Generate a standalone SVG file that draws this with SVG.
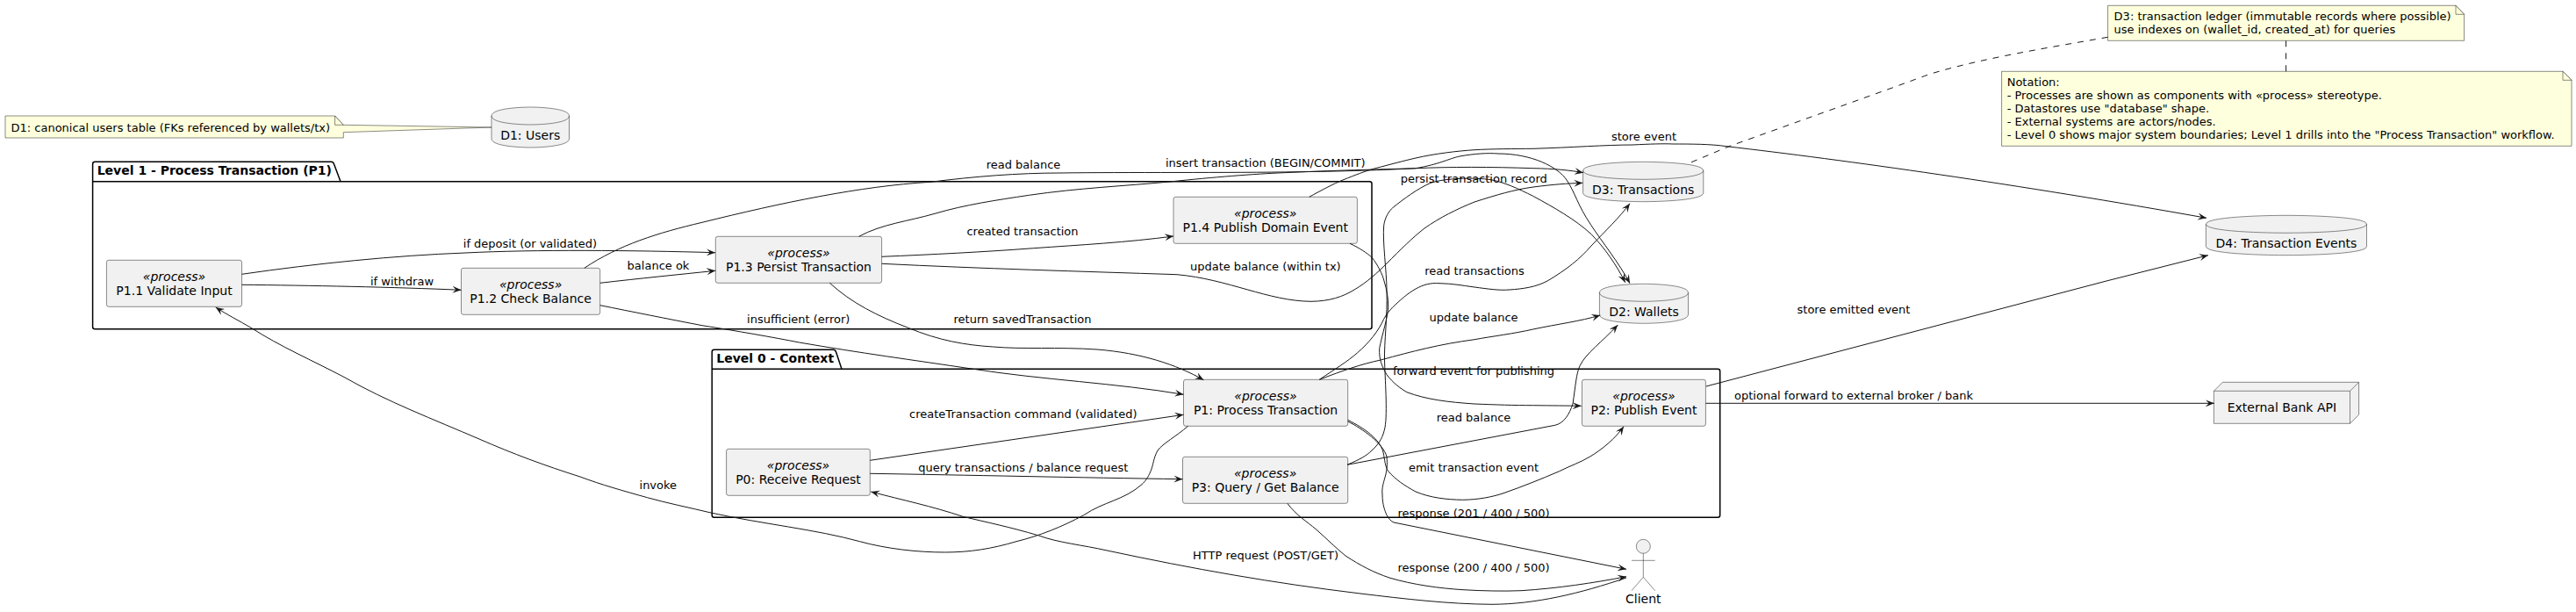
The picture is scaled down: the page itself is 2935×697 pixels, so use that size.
<svg xmlns="http://www.w3.org/2000/svg" width="2935" height="697" viewBox="0 0 2935 697">
<style>
text{font-family:"DejaVu Sans",sans-serif;fill:#000}
.n{font-size:14px;text-anchor:middle}
.s{font-size:14px;font-style:italic;text-anchor:middle}
.l{font-size:13px;text-anchor:middle}
.t{font-size:13px}
.b{font-size:14px;font-weight:700}
.box{fill:#F1F1F1;stroke:#181818;stroke-width:.5}
.note{fill:#FEFFDD;stroke:#181818;stroke-width:.5}
.pkg{fill:none;stroke:#000;stroke-width:1.5}
.e{fill:none;stroke:#181818;stroke-width:1;marker-end:url(#a)}
.d{fill:none;stroke:#181818;stroke-width:1;stroke-dasharray:7,7}
</style>
<defs><marker id="a" markerUnits="userSpaceOnUse" viewBox="0 0 10 10" refX="10" refY="5" markerWidth="10" markerHeight="10" orient="auto"><path d="M10,5L0,1L4,5L0,9Z" fill="#181818"/></marker></defs>
<rect width="2935" height="697" fill="#fff"/>
<g id="level1"><path class="pkg" d="M108.1,184.3L377.5,184.3C379,184.3 380,185.3 380.5,186.8L388,206.7L1560.5,206.7A2.5,2.5 0 0 1 1563,209.2L1563,372.2A2.5,2.5 0 0 1 1560.5,374.7L108.1,374.7A2.5,2.5 0 0 1 105.6,372.2L105.6,186.8A2.5,2.5 0 0 1 108.1,184.3ZM105.6,206.7L388,206.7"/><text class="b" x="110.7" y="199">Level 1 - Process Transaction (P1)</text></g>
<g id="level0"><path class="pkg" d="M813.7,398.3L949.5,398.3C951,398.3 952,399.3 952.5,400.8L959,420.3L1957.2,420.3A2.5,2.5 0 0 1 1959.7,422.8L1959.7,586.8A2.5,2.5 0 0 1 1957.2,589.3L813.7,589.3A2.5,2.5 0 0 1 811.2,586.8L811.2,400.8A2.5,2.5 0 0 1 813.7,398.3ZM811.2,420.3L959,420.3"/><text class="b" x="816.3" y="412.7">Level 0 - Context</text></g>
<g id="p11"><rect class="box" x="121.4" y="296.3" width="154.1" height="53" rx="2.5"/><text class="s" x="198.5" y="320">«process»</text><text class="n" x="198.5" y="336">P1.1 Validate Input</text></g>
<g id="p12"><rect class="box" x="525.5" y="305.3" width="158.2" height="53" rx="2.5"/><text class="s" x="604.6" y="329">«process»</text><text class="n" x="604.6" y="345">P1.2 Check Balance</text></g>
<g id="p13"><rect class="box" x="815.3" y="269.3" width="189.3" height="53" rx="2.5"/><text class="s" x="910" y="293">«process»</text><text class="n" x="910" y="309">P1.3 Persist Transaction</text></g>
<g id="p14"><rect class="box" x="1337" y="224.3" width="209.4" height="53" rx="2.5"/><text class="s" x="1441.7" y="248">«process»</text><text class="n" x="1441.7" y="264">P1.4 Publish Domain Event</text></g>
<g id="p0"><rect class="box" x="827.6" y="511.3" width="163.7" height="53" rx="2.5"/><text class="s" x="909.5" y="535">«process»</text><text class="n" x="909.5" y="551">P0: Receive Request</text></g>
<g id="p1"><rect class="box" x="1348.5" y="432.3" width="187.2" height="53" rx="2.5"/><text class="s" x="1442" y="456">«process»</text><text class="n" x="1442" y="472">P1: Process Transaction</text></g>
<g id="p3"><rect class="box" x="1347.5" y="520.3" width="188.2" height="53" rx="2.5"/><text class="s" x="1441.6" y="544">«process»</text><text class="n" x="1441.6" y="560">P3: Query / Get Balance</text></g>
<g id="p2"><rect class="box" x="1802.5" y="432.3" width="140.9" height="53" rx="2.5"/><text class="s" x="1873" y="456">«process»</text><text class="n" x="1873" y="472">P2: Publish Event</text></g>
<g id="d1"><path class="box" d="M560,132C560,122 604.2,122 604.2,122C604.2,122 648.5,122 648.5,132L648.5,158C648.5,168 604.2,168 604.2,168C604.2,168 560,168 560,158Z"/><path class="box" style="fill:none" d="M560,132C560,142 604.2,142 604.2,142C604.2,142 648.5,142 648.5,132"/><text class="n" x="604.2" y="159.3">D1: Users</text></g>
<g id="d3"><path class="box" d="M1803.6,194.3C1803.6,184.3 1872.2,184.3 1872.2,184.3C1872.2,184.3 1940.8,184.3 1940.8,194.3L1940.8,219.7C1940.8,229.7 1872.2,229.7 1872.2,229.7C1872.2,229.7 1803.6,229.7 1803.6,219.7Z"/><path class="box" style="fill:none" d="M1803.6,194.3C1803.6,204.3 1872.2,204.3 1872.2,204.3C1872.2,204.3 1940.8,204.3 1940.8,194.3"/><text class="n" x="1872.2" y="220.7">D3: Transactions</text></g>
<g id="d2"><path class="box" d="M1822.4,333.3C1822.4,323.3 1873,323.3 1873,323.3C1873,323.3 1923.5,323.3 1923.5,333.3L1923.5,358.3C1923.5,368.3 1873,368.3 1873,368.3C1873,368.3 1822.4,368.3 1822.4,358.3Z"/><path class="box" style="fill:none" d="M1822.4,333.3C1822.4,343.3 1873,343.3 1873,343.3C1873,343.3 1923.5,343.3 1923.5,333.3"/><text class="n" x="1873" y="360">D2: Wallets</text></g>
<g id="d4"><path class="box" d="M2513.4,255.3C2513.4,245.3 2605,245.3 2605,245.3C2605,245.3 2696.5,245.3 2696.5,255.3L2696.5,280.7C2696.5,290.7 2605,290.7 2605,290.7C2605,290.7 2513.4,290.7 2513.4,280.7Z"/><path class="box" style="fill:none" d="M2513.4,255.3C2513.4,265.3 2605,265.3 2605,265.3C2605,265.3 2696.5,265.3 2696.5,255.3"/><text class="n" x="2605" y="281.7">D4: Transaction Events</text></g>
<g id="bank"><path class="box" d="M2522.4,445.3L2532.4,435.3L2687.6,435.3L2687.6,472.3L2677.5,482.3L2522.4,482.3Z"/><path class="box" style="fill:none" d="M2677.5,445.3L2687.6,435.3M2522.4,445.3L2677.5,445.3L2677.5,482.3"/><text class="n" x="2599.9" y="468.7">External Bank API</text></g>
<g id="client"><g style="fill:none;stroke:#181818;stroke-width:.5"><circle cx="1872.3" cy="622.3" r="8" fill="#F1F1F1"/><path d="M1872.3,630.3L1872.3,657.3M1859,638.3L1885.7,638.3M1872.3,657.3L1859,672.7M1872.3,657.3L1885.7,672.7"/></g><text class="n" x="1872.3" y="686.7">Client</text></g>
<g id="note-d1"><path class="note" d="M6,132L381.6,132L391.3,142.3L560,145L391.3,150.7L391.3,157L6,157Z"/><path class="note" d="M381.6,132L381.6,142.3L391.3,142.3Z"/><text class="t" x="12.5" y="150">D1: canonical users table (FKs referenced by wallets/tx)</text></g>
<g id="note-d3"><path class="note" d="M2401.6,6.3L2798,6.3L2807.6,16.3L2807.6,46.3L2401.6,46.3Z"/><path class="note" d="M2798,6.3L2798,16.3L2807.6,16.3Z"/><text class="t" x="2408.6" y="22.7">D3: transaction ledger (immutable records where possible)</text><text class="t" x="2408.6" y="37.7">use indexes on (wallet_id, created_at) for queries</text></g>
<g id="note-notation"><path class="note" d="M2280.6,81.3L2920,81.3L2930,91.3L2930,166.3L2280.6,166.3Z"/><path class="note" d="M2920,81.3L2920,91.3L2930,91.3Z"/><text class="t" x="2286.7" y="98">Notation:</text><text class="t" x="2286.7" y="113">- Processes are shown as components with «process» stereotype.</text><text class="t" x="2286.7" y="128">- Datastores use "database" shape.</text><text class="t" x="2286.7" y="143">- External systems are actors/nodes.</text><text class="t" x="2286.7" y="158">- Level 0 shows major system boundaries; Level 1 drills into the "Process Transaction" workflow.</text></g>
<g id="connectors">
<path class="d" d="M2604.6,46.3L2604.6,81.3"/>
<path class="d" d="M2401.6,42.3C2330,55 2260,66 2200,84C2180,91 2170,95 2156,100L1970,166.7L1926.5,185"/>
<path class="e" d="M275.5,324.3C350,325 450,327 525.5,330.3"/>
<path class="e" d="M275.5,312.3C360,300 450,291 530,288C610,284 720,285 815,287.7"/>
<path class="e" d="M683.7,322.3C730,317 770,313 815.3,308.3"/>
<path class="e" d="M665.8,305.3C705,279 750,265 800,253.3C890,231 980,212 1060,207.3C1110,201 1160,197 1208,197C1280,196 1400,197 1480,195.7C1540,195 1590,193 1613,191.7C1640,187 1650,181 1663,178C1680,175 1695,174 1707,175C1745,175 1775,190 1785,205C1795,220 1797,233 1813,256.7C1825,275 1845,300 1857,322.7"/>
<path class="e" d="M978.6,269.3C1005,255 1035,252 1065,243.3C1100,233 1135,228 1172.4,222.3C1230,214 1280,212 1335.7,206.7C1380,202 1430,198 1463,196.7C1520,194 1570,193 1613,191.7C1650,190 1700,190 1747,191.7C1770,192 1790,194 1804,196.7"/>
<path class="e" d="M1491.7,224.3C1505,217 1520,209 1530,205C1545,199 1555,195 1567,191.7C1585,187 1600,183 1613,180C1635,175 1660,172 1680,170.7C1700,169.5 1725,169.5 1747,169.3C1790,168 1830,165 1860,165C1880,164 1895,163.5 1906,164C1925,164 1950,164 1967,166.7C2100,182 2300,210 2514,248.3"/>
<path class="e" d="M1503.3,432.3C1530,422 1550,415 1573,410C1610,400 1640,392 1680,386.7C1700,383 1725,380 1746.7,375C1775,369 1800,366 1823.3,359"/>
<path class="e" d="M1503.3,432.3C1520,421 1535,412 1546.7,401.7C1560,390 1570,378 1576.7,363.3C1580,357 1583,354 1586.7,350C1595,342 1604,334 1613,329C1622,324 1630,322 1640,322.7C1655,323 1665,325 1680,327C1695,329 1708,331 1720,330C1735,329 1750,327 1763,320C1785,307 1800,295 1813,280C1830,262 1845,248 1857,231.7"/>
<path class="e" d="M1535,529.3C1550,523 1557,519 1563,513C1572,505 1576,497 1578,486.7C1581,470 1578,430 1577.5,410C1577,390 1581,360 1580,330C1580,310 1575,275 1576.7,256.7C1578,247 1583,240 1586.7,236.7C1600,226 1615,215 1630,208.3C1640,205 1652,204 1663,203.3C1675,203 1690,203 1700,205C1715,208 1730,215 1746.7,223.3C1770,236 1795,250 1813,266.7C1828,282 1842,302 1851.7,321.7"/>
<path class="e" d="M1538,277.3C1550,283 1557,288 1563,293C1570,302 1575,312 1577,320C1580,330 1582,340 1581.7,350C1581,362 1575,380 1571.7,396.7C1571,410 1575,418 1580,426.7C1587,436 1595,442 1603,446.7C1625,455 1650,458 1680,460C1705,461 1725,461.7 1746.7,461.7C1770,462 1785,462 1801.7,462.3"/>
<path class="e" d="M1004.6,300.3C1120,306 1230,309 1341,312.7C1400,318 1445,343 1494,343.3C1515,343 1530,338 1543,330C1557,322 1570,310 1580,300C1595,285 1610,270 1623,260C1640,248 1660,238 1680,230C1705,222 1725,216 1747,213C1770,210 1785,209 1803.3,208.3"/>
<path class="e" d="M1535,529.3L1771.7,484.3C1782,482 1788,472 1792,460C1795,440 1796,425 1800,416.7C1807,402 1825,390 1843.3,370"/>
<path class="e" d="M1535.7,478.3C1555,488 1572,500 1576,515C1578,525 1578,531 1581.7,536.7C1590,546 1600,553 1613,560C1630,567 1648,569 1666.7,569.3C1685,569 1700,566 1713,561.7C1735,554 1755,546 1776.7,536.7C1790,530 1800,527 1811.7,520C1825,512 1840,500 1850,485.7"/>
<path class="e" d="M1535.7,480C1552,488 1576,505 1580,520C1581,530 1580,535 1579,540C1577,548 1574,555 1575,563C1575,575 1578,582 1580,586.7C1582,590 1585,594 1588,595L1853,648.3"/>
<path class="e" d="M1466.8,573.3C1478,588 1488,593 1500,603.3C1512,614 1522,624 1533,633C1550,644 1565,652 1583,658C1610,666 1640,670 1667,671.7C1690,673 1712,673.5 1733,672.7C1775,670 1815,664 1853,656.7"/>
<path class="e" d="M1853,658C1800,676 1750,688 1700,688.3C1650,688 1600,682 1550,676C1450,664 1360,648 1260,626.7C1235,621 1205,618 1183.7,610C1150,600 1125,595 1097,588.3C1060,576 1030,570 992.3,560"/>
<path class="e" d="M1353.6,485.3C1340,497 1325,505 1319,513C1314,522 1314,530 1311,536.7C1308,544 1305,548 1301,551.7C1280,570 1258,571 1234.7,586.7C1210,600 1185,610 1158,616.7C1130,625 1105,629 1076.5,629C1045,629 1010,625 979.6,616.7C930,603 870,597 810,584C785,578 760,573 737.5,566.7C710,559 685,552 661,543C620,530 585,517 546,500C495,478 440,457 393,430C355,410 320,395 286,373.3C272,365 258,358 245.7,350"/>
<path class="e" d="M683.7,347.7C720,355 760,363 800,370.7C840,377 880,384 910.7,390C980,402 1040,410 1107,420C1190,433 1270,436 1348.5,449.3"/>
<path class="e" d="M945.4,322.3C970,345 1000,360 1034.7,373.3C1070,388 1100,393 1131.6,395C1165,398 1205,395 1250,398C1300,402 1340,415 1371.4,432.7"/>
<path class="e" d="M1004.6,292.3C1060,290 1120,287 1177.6,282.7C1230,279 1285,276 1337,269"/>
<path class="e" d="M991.3,524.3L1348.5,472.3"/>
<path class="e" d="M991.3,539.3C1100,541 1230,544 1347.5,545.7"/>
<path class="e" d="M1943.9,440L2400,320L2515.9,290.7"/>
<path class="e" d="M1943.4,459.3L2522.8,459.3"/>
<text class="l" x="458" y="325">if withdraw</text>
<text class="l" x="604" y="281.7">if deposit (or validated)</text>
<text class="l" x="750" y="306.7">balance ok</text>
<text class="l" x="1166" y="191.7">read balance</text>
<text class="l" x="1441.8" y="190">insert transaction (BEGIN/COMMIT)</text>
<text class="l" x="1165" y="268">created transaction</text>
<text class="l" x="1441.8" y="307.7">update balance (within tx)</text>
<text class="l" x="909.7" y="367.7">insufficient (error)</text>
<text class="l" x="1165" y="367.7">return savedTransaction</text>
<text class="l" x="1873" y="160">store event</text>
<text class="l" x="1679.3" y="207.7">persist transaction record</text>
<text class="l" x="1680" y="312.7">read transactions</text>
<text class="l" x="1679" y="365.7">update balance</text>
<text class="l" x="2112" y="356.7">store emitted event</text>
<text class="l" x="1679" y="426.7">forward event for publishing</text>
<text class="l" x="1679" y="480">read balance</text>
<text class="l" x="1679" y="536.7">emit transaction event</text>
<text class="l" x="1679" y="589">response (201 / 400 / 500)</text>
<text class="l" x="1679" y="650.7">response (200 / 400 / 500)</text>
<text class="l" x="2112" y="455">optional forward to external broker / bank</text>
<text class="l" x="1165.8" y="476">createTransaction command (validated)</text>
<text class="l" x="1165.8" y="537.3">query transactions / balance request</text>
<text class="l" x="1442" y="636.7">HTTP request (POST/GET)</text>
<text class="l" x="749.8" y="556.7">invoke</text>
</g>
</svg>
